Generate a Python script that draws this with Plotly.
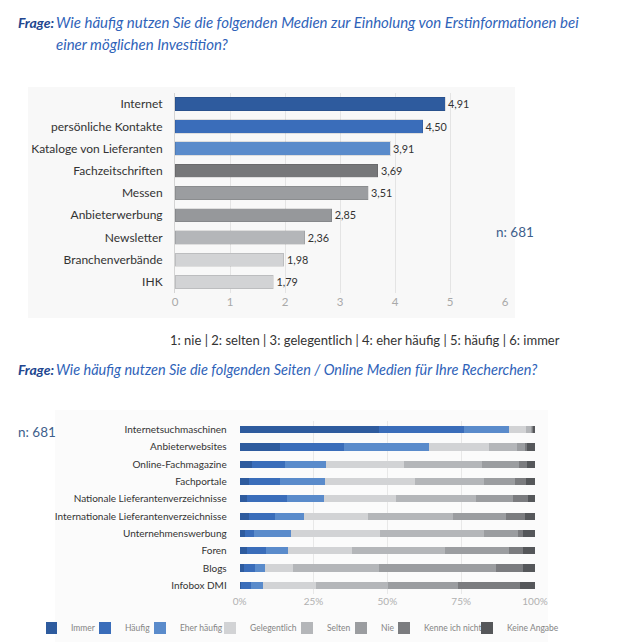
import plotly.graph_objects as go

# ---------------- data ----------------
medien = ["Internet", "persönliche Kontakte", "Kataloge von Lieferanten",
          "Fachzeitschriften", "Messen", "Anbieterwerbung", "Newsletter",
          "Branchenverbände", "IHK"]
mittelwerte = [4.91, 4.50, 3.91, 3.69, 3.51, 2.85, 2.36, 1.98, 1.79]
skala_ticks = [0, 1, 2, 3, 4, 5, 6]

seiten = ["Internetsuchmaschinen", "Anbieterwebsites", "Online-Fachmagazine",
          "Fachportale", "Nationale Lieferantenverzeichnisse",
          "Internationale Lieferantenverzeichnisse", "Unternehmenswerbung",
          "Foren", "Blogs", "Infobox DMI"]
antworten = ["Immer", "Häufig", "Eher häufig", "Gelegentlich", "Selten",
             "Nie", "Kenne ich nicht", "Keine Angabe"]
immer          = [47.2, 13.7, 4.2, 3.0, 2.6, 3.0, 1.7, 2.5, 1.6, 0.5]
haeufig        = [28.9, 21.6, 11.1, 10.7, 13.3, 9.0, 3.0, 6.3, 3.6, 3.2]
eher_haeufig   = [15.2, 28.8, 13.9, 15.2, 12.7, 9.8, 12.7, 7.6, 3.4, 4.3]
gelegentlich   = [5.7, 20.2, 26.6, 30.4, 24.4, 21.7, 30.1, 21.5, 9.3, 17.8]
selten         = [1.5, 9.6, 26.3, 23.4, 27.0, 28.8, 35.2, 31.6, 29.2, 24.4]
nie            = [0.7, 2.7, 12.6, 10.5, 12.6, 17.9, 11.5, 21.7, 39.8, 23.6]
kenne_nicht    = [0.3, 0.7, 2.6, 3.6, 5.0, 6.3, 1.8, 4.7, 9.1, 21.1]
keine_angabe   = [0.5, 2.7, 2.7, 3.2, 2.4, 3.5, 4.0, 4.1, 4.0, 5.1]
prozent_ticks = [0, 25, 50, 75, 100]
stichprobe = 681

# ---------------- styles ----------------
W, H = 617, 644
FONT = "Lato"
def px(x): return x / W
def py(y): return 1 - y / H

medien_farben = ["#2e5b9e", "#3a6dba", "#5a8bcb", "#767779", "#9b9da0",
                 "#96989b", "#b4b6b9", "#d2d3d5", "#d2d3d5"]
antwort_farben = ["#2e5b9e", "#3a6dba", "#5a8bcb", "#d2d3d5", "#b4b6b9",
                  "#9b9da0", "#7b7c7f", "#55575a"]
series = [immer, haeufig, eher_haeufig, gelegentlich, selten, nie,
          kenne_nicht, keine_angabe]

fig = go.Figure()

# Chart 1
fig.add_trace(go.Bar(
    x=mittelwerte, y=medien, orientation="h",
    marker=dict(color=medien_farben, line=dict(width=1, color="rgba(0,0,0,0.10)")),
    width=0.6,
    text=[f"{v:.2f}".replace(".", ",") for v in mittelwerte],
    textposition="outside", cliponaxis=False,
    textfont=dict(family=FONT, size=13, color="#333333"),
    xaxis="x", yaxis="y", showlegend=False, hoverinfo="x+y",
))

# Chart 2
legend_widths = [24, 25, 40, 47, 24, 13, 53, 50]
for name, vals, col, lw in zip(antworten, series, antwort_farben, legend_widths):
    fig.add_trace(go.Bar(
        x=vals, y=seiten, orientation="h", name=name,
        marker=dict(color=col, line=dict(width=0)),
        width=0.42, xaxis="x2", yaxis="y2", legendwidth=lw,
    ))

fig.update_layout(
    width=W, height=H, margin=dict(l=0, r=0, t=0, b=0, autoexpand=False),
    paper_bgcolor="white", plot_bgcolor="rgba(0,0,0,0)",
    barmode="stack",
    font=dict(family=FONT, color="#333333"),
    xaxis=dict(domain=[px(175), px(505)], range=[0, 6], tickvals=skala_ticks,
               showgrid=True, gridcolor="#e4e4e4", gridwidth=1, zeroline=False,
               showline=False, ticks="", tickfont=dict(size=11.5, color="#a9a9a9"),
               anchor="y", automargin=False),
    yaxis=dict(domain=[py(293), py(93)], autorange="reversed",
               showline=True, linecolor="#d4d4d4", linewidth=1,
               ticks="outside", ticklen=9, tickcolor="rgba(0,0,0,0)",
               tickfont=dict(size=12, color="#333333"), anchor="x", automargin=False),
    xaxis2=dict(domain=[px(239.7), px(535)], range=[0, 100], tickvals=prozent_ticks,
                ticktext=[f"{t}%" for t in prozent_ticks],
                showgrid=True, gridcolor="#e8e8e8", zeroline=False,
                showline=False, ticks="", tickfont=dict(size=10, color="#b0b0b0"),
                anchor="y2", automargin=False),
    yaxis2=dict(domain=[py(594), py(421)], autorange="reversed",
                showline=False, ticks="outside", ticklen=10,
                tickcolor="rgba(0,0,0,0)",
                tickfont=dict(size=10, color="#333333"), anchor="x2", automargin=False),
    legend=dict(orientation="h", x=px(46), xanchor="left", y=py(628),
                yanchor="middle", font=dict(size=8.5, color="#858585"),
                itemwidth=30, indentation=-15, traceorder="normal",
                bgcolor="rgba(0,0,0,0)", itemclick=False),
)

shapes = [
    dict(type="rect", xref="paper", yref="paper", x0=px(28), x1=px(515),
         y0=py(318), y1=py(87), fillcolor="#f8f8f8", line=dict(width=0), layer="below"),
    dict(type="rect", xref="paper", yref="paper", x0=px(55), x1=px(548),
         y0=py(642), y1=py(410), fillcolor="#fbfbfb", line=dict(width=0), layer="below"),
]
fig.update_layout(shapes=shapes)

title_col = "#2f63b9"
frage_col = "#22468f"
ann = [
    dict(x=px(16), y=py(22), text="<b><i>Frage:</i></b>", font=dict(size=14, color=frage_col)),
    dict(x=px(54), y=py(22), text="<i>Wie häufig nutzen Sie die folgenden Medien zur Einholung von Erstinformationen bei</i>",
         font=dict(size=15, color=title_col)),
    dict(x=px(54), y=py(44), text="<i>einer möglichen Investition?</i>",
         font=dict(size=15, color=title_col)),
    dict(x=px(494), y=py(232), text=f"n: {stichprobe}", font=dict(size=13.5, color="#3f5f8c")),
    dict(x=px(168), y=py(340), text="1: nie | 2: selten | 3: gelegentlich | 4: eher häufig | 5: häufig | 6: immer",
         font=dict(size=13, color="#333333")),
    dict(x=px(16), y=py(369), text="<b><i>Frage:</i></b>", font=dict(size=14, color=frage_col)),
    dict(x=px(54), y=py(369), text="<i>Wie häufig nutzen Sie die folgenden Seiten / Online Medien für Ihre Recherchen?</i>",
         font=dict(size=14.5, color=title_col)),
    dict(x=px(16), y=py(432), text=f"n: {stichprobe}", font=dict(size=13.5, color="#3f5f8c")),
]
fig.update_layout(annotations=[dict(a, xref="paper", yref="paper", xanchor="left",
                                    yanchor="middle", showarrow=False,
                                    font=dict(family=FONT, **a["font"])) for a in ann])

fig.write_html("out.html", config={"displayModeBar": False},
               post_script="document.body.style.margin='0';")
